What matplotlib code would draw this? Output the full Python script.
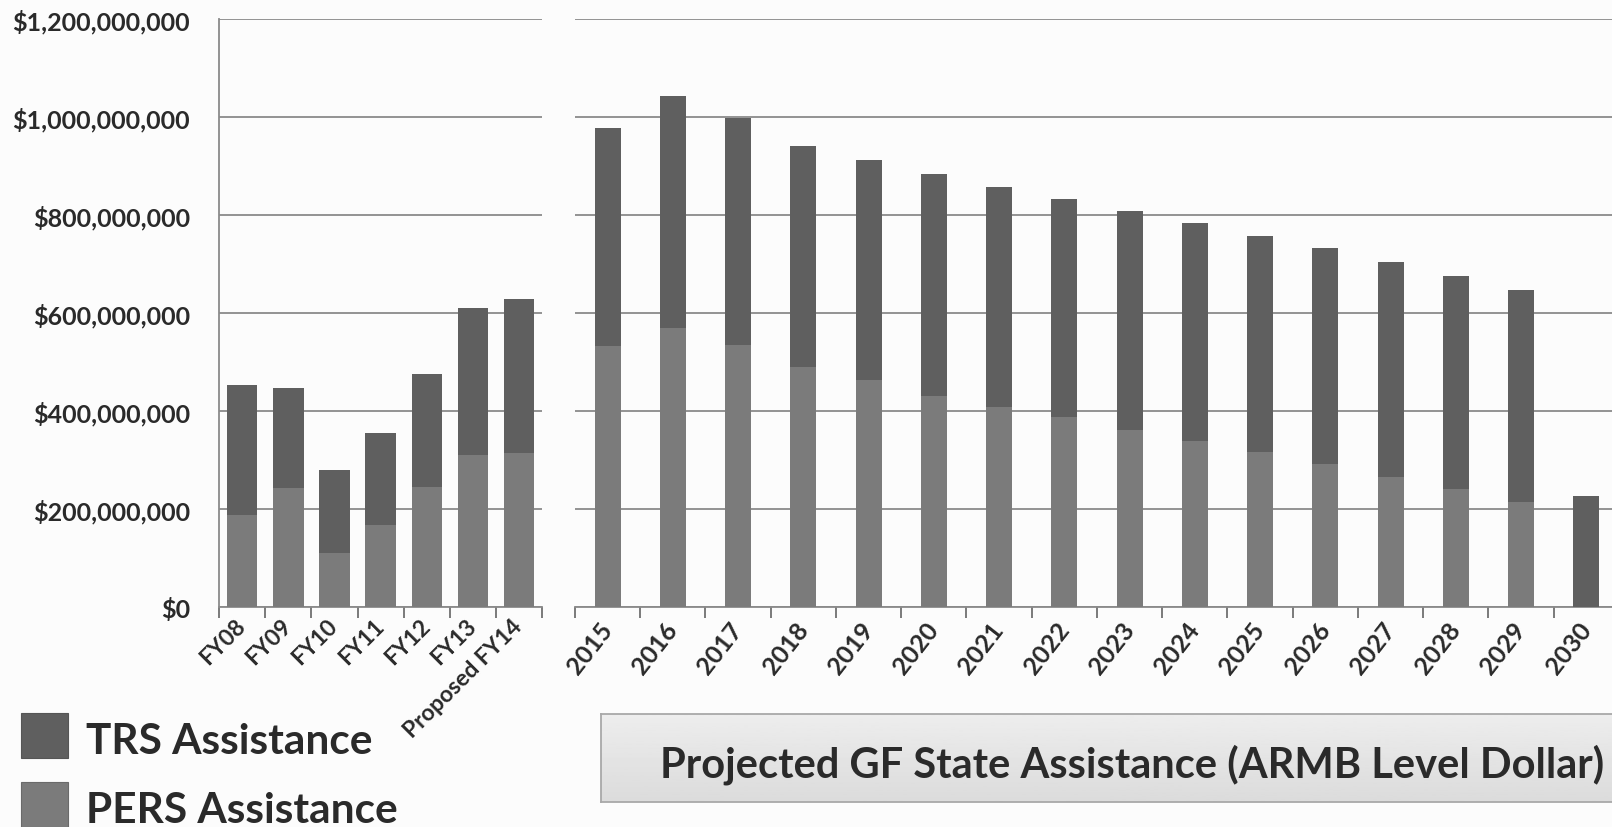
import numpy as np
import matplotlib
matplotlib.use("Agg")
import matplotlib.pyplot as plt
from matplotlib.patches import Rectangle
from matplotlib.ticker import FuncFormatter, FixedLocator

plt.rcParams["font.family"] = ["Lato", "DejaVu Sans"]
plt.rcParams["font.weight"] = "bold"

# Historical GF state assistance (millions of dollars)
hist_years = ["FY08", "FY09", "FY10", "FY11", "FY12", "FY13", "Proposed FY14"]
hist_pers = [188, 242, 111, 168, 245, 310, 315]
hist_trs = [266, 205, 169, 187, 231, 300, 314]

# Projected GF state assistance, ARMB level dollar (millions of dollars)
proj_years = ["2015", "2016", "2017", "2018", "2019", "2020", "2021", "2022",
              "2023", "2024", "2025", "2026", "2027", "2028", "2029", "2030"]
proj_pers = [533, 569, 534, 490, 463, 430, 408, 388,
             361, 338, 317, 291, 265, 241, 214, 0]
proj_trs = [444, 473, 464, 451, 449, 454, 450, 445,
            447, 445, 441, 441, 440, 435, 434, 226]

y_ticks = [0, 200e6, 400e6, 600e6, 800e6, 1000e6, 1200e6]

TRS_COLOR = "#5f5f5f"
PERS_COLOR = "#7b7b7b"
GRID_COLOR = "#8a8a8a"
TEXT_COLOR = "#2a2a2a"

fig = plt.figure(figsize=(16.12, 8.28), dpi=100)
fig.patch.set_facecolor("#fcfcfc")


def style_axes(ax, n, labels, rot, fs, show_left, pad):
    ax.set_facecolor("none")
    ax.set_xlim(-0.5, n - 0.5)
    ax.set_ylim(0, 1200e6)
    ax.yaxis.set_major_locator(FixedLocator(y_ticks))
    ax.grid(axis="y", color=GRID_COLOR, lw=1.3)
    ax.set_axisbelow(True)
    for s in ("top", "right"):
        ax.spines[s].set_visible(False)
    ax.spines["bottom"].set_color(GRID_COLOR)
    ax.spines["bottom"].set_linewidth(1.3)
    ax.spines["left"].set_visible(show_left)
    ax.spines["left"].set_color(GRID_COLOR)
    ax.spines["left"].set_linewidth(1.3)
    ax.set_xticks(np.arange(n))
    ax.set_xticklabels(labels, rotation=rot, ha="right", va="center",
                       rotation_mode="anchor", fontsize=fs,
                       fontweight="bold", color=TEXT_COLOR)
    ax.tick_params(axis="x", which="major", length=0, pad=pad)
    ax.set_xticks(np.arange(n + 1) - 0.5, minor=True)
    ax.tick_params(axis="x", which="minor", length=8, width=1.4,
                   color="#7a7a7a", direction="out")


# Historical chart
ax1 = fig.add_axes([0.1359, 0.2657, 0.2004, 0.7101])
x1 = np.arange(len(hist_years))
p1 = np.array(hist_pers) * 1e6
t1 = np.array(hist_trs) * 1e6
ax1.bar(x1, p1, width=0.66, color=PERS_COLOR, zorder=3)
ax1.bar(x1, t1, width=0.66, bottom=p1, color=TRS_COLOR, zorder=3)
style_axes(ax1, len(hist_years), hist_years, 45, 16.5, True, 11)
ax1.yaxis.set_major_formatter(FuncFormatter(lambda v, _: f"${v:,.0f}"))
ax1.tick_params(axis="y", length=0, pad=21, labelsize=18,
                labelcolor=TEXT_COLOR)
for lbl in ax1.get_yticklabels():
    lbl.set_fontweight("bold")

# Projected chart
ax2 = fig.add_axes([0.3567, 0.2657, 0.6476, 0.7101])
x2 = np.arange(len(proj_years))
p2 = np.array(proj_pers) * 1e6
t2 = np.array(proj_trs) * 1e6
ax2.bar(x2, p2, width=0.40, color=PERS_COLOR, zorder=3)
ax2.bar(x2, t2, width=0.40, bottom=p2, color=TRS_COLOR, zorder=3)
style_axes(ax2, len(proj_years), proj_years, 52, 18, False, 13)
ax2.tick_params(axis="y", length=0, labelleft=False)

# Legend
fig.patches.append(Rectangle((0.013, 0.0833), 0.0292, 0.0543,
                             transform=fig.transFigure,
                             facecolor=TRS_COLOR, edgecolor="#555555", lw=0.8))
fig.patches.append(Rectangle((0.013, 0.0), 0.0292, 0.0543,
                             transform=fig.transFigure,
                             facecolor=PERS_COLOR, edgecolor="#6a6a6a", lw=0.8))
fig.text(0.0535, 0.1035, "TRS Assistance", fontsize=30.5, fontweight="bold",
         color=TEXT_COLOR, ha="left", va="center")
fig.text(0.0535, 0.0210, "PERS Assistance", fontsize=30.5, fontweight="bold",
         color=TEXT_COLOR, ha="left", va="center")

# Caption box with soft vertical gradient
bax = fig.add_axes([0.3728, 0.0302, 0.632, 0.1063])
grad = np.linspace(0.93, 0.86, 64).reshape(-1, 1)
bax.imshow(grad, cmap="gray", vmin=0, vmax=1, aspect="auto",
           extent=[0, 1, 0, 1])
bax.set_xticks([])
bax.set_yticks([])
for s in bax.spines.values():
    s.set_color("#a8a8a8")
    s.set_linewidth(1.3)
fig.text(0.7022, 0.0765, "Projected GF State Assistance (ARMB Level Dollar)",
         fontsize=30, fontweight="bold", color=TEXT_COLOR,
         ha="center", va="center")

fig.savefig("out.png", dpi=100, facecolor=fig.get_facecolor())
